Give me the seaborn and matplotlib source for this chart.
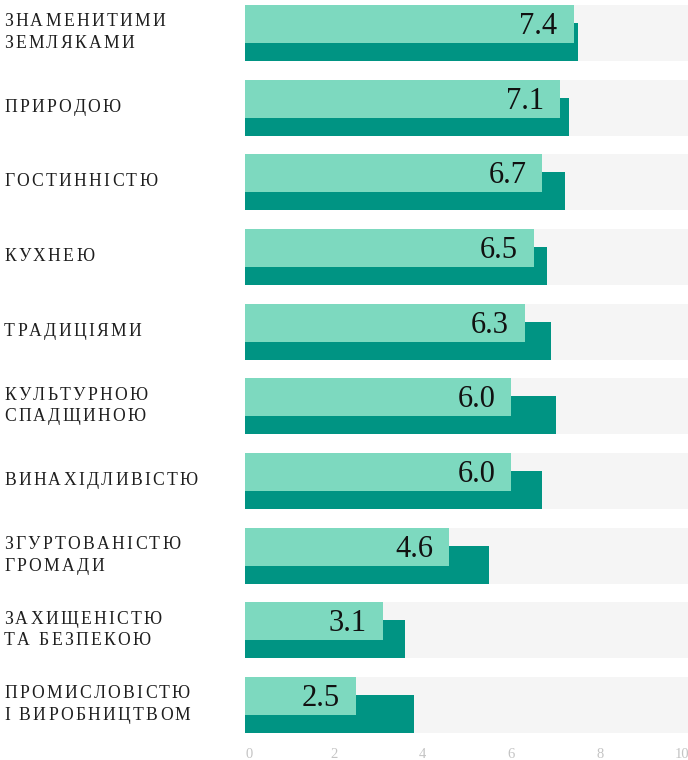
import matplotlib
matplotlib.use("Agg")
import matplotlib.pyplot as plt
import seaborn as sns
import numpy as np
import pandas as pd
from matplotlib.font_manager import FontProperties
from matplotlib.textpath import TextToPath

categories = [
    "ЗНАМЕНИТИМИ\nЗЕМЛЯКАМИ",
    "ПРИРОДОЮ",
    "ГОСТИННІСТЮ",
    "КУХНЕЮ",
    "ТРАДИЦІЯМИ",
    "КУЛЬТУРНОЮ\nСПАДЩИНОЮ",
    "ВИНАХІДЛИВІСТЮ",
    "ЗГУРТОВАНІСТЮ\nГРОМАДИ",
    "ЗАХИЩЕНІСТЮ\nТА БЕЗПЕКОЮ",
    "ПРОМИСЛОВІСТЮ\nІ ВИРОБНИЦТВОМ",
]
values_front = [7.4, 7.1, 6.7, 6.5, 6.3, 6.0, 6.0, 4.6, 3.1, 2.5]
values_back = [7.5, 7.3, 7.2, 6.8, 6.9, 7.0, 6.7, 5.5, 3.6, 3.8]
scale_max = 10
xticks = [0, 2, 4, 6, 8, 10]

LIGHT = "#7dd9bf"
DARK = "#009483"
GREY = "#f5f5f5"
SERIF = ["Liberation Serif", "DejaVu Serif"]

sns.set_theme(style="white")
plt.rcParams["font.family"] = SERIF

W, H = 688, 760
DPI = 100
fig = plt.figure(figsize=(W / DPI, H / DPI), dpi=DPI)
pitch = 74.67  # pixels per row
ax = fig.add_axes([245 / W, 20 / H, 444 / W, 740 / H])

n = len(categories)
pos = np.arange(n)
off = 9 / pitch
bh = 38 / pitch

df = pd.DataFrame({"cat": categories, "front": values_front, "back": values_back,
                   "pos": pos, "full": [scale_max] * n})

sns.barplot(data=df, x="full", y="pos", orient="h", native_scale=True,
            width=56 / pitch, color=GREY, saturation=1, errorbar=None,
            linewidth=0, ax=ax)
sns.barplot(x=df["back"], y=df["pos"] + off, orient="h", native_scale=True,
            width=bh, color=DARK, saturation=1, errorbar=None, linewidth=0, ax=ax)
sns.barplot(x=df["front"], y=df["pos"] - off, orient="h", native_scale=True,
            width=bh, color=LIGHT, saturation=1, errorbar=None, linewidth=0, ax=ax)

ax.set_xlim(0, scale_max)
ax.set_ylim((740 - 33) / pitch, -33 / pitch)
ax.set_xticks(xticks)
ax.set_xticklabels([str(t) for t in xticks])
ax.set_yticks([])
ax.set_xlabel("")
ax.set_ylabel("")
ax.tick_params(axis="x", length=0, pad=5.5, labelsize=10.5, labelcolor="#c4c4c4")
ticklabels = ax.get_xticklabels()
for lab in ticklabels:
    lab.set_fontfamily(SERIF)
ticklabels[0].set_horizontalalignment("left")
ticklabels[-1].set_horizontalalignment("right")
for s in ax.spines.values():
    s.set_visible(False)
ax.grid(False)

# value labels inside the light bars
for v, p in zip(values_front, pos):
    ax.annotate(f"{v:.1f}", xy=(v, p - off), xytext=(-16, -10),
                textcoords="offset pixels", ha="right", va="baseline",
                fontsize=22, color="#111111", family=SERIF)

# category labels with letter spacing (tracking)
label_size = 12.7
tracking = 2.3  # px between letters
prop = FontProperties(family="Liberation Serif", size=label_size)
t2p = TextToPath()


def char_w(ch):
    w, _, _ = t2p.get_text_width_height_descent(ch, prop, ismath=False)
    return w * DPI / 72


line_h = 21.7
for cat, p in zip(categories, pos):
    lines = cat.split("\n")
    k = len(lines)
    first = 4 - (k - 1) * line_h / 2
    for i, line in enumerate(lines):
        x = 0.0
        for ch in line:
            ax.annotate(ch, xy=(0, p), xycoords=("axes fraction", "data"),
                        xytext=(-241 + x, -(first + i * line_h)),
                        textcoords="offset pixels", ha="left", va="baseline",
                        fontsize=label_size, color="#1e1e1e", family=SERIF)
            x += char_w(ch) + tracking

fig.savefig("out.png", dpi=DPI)
